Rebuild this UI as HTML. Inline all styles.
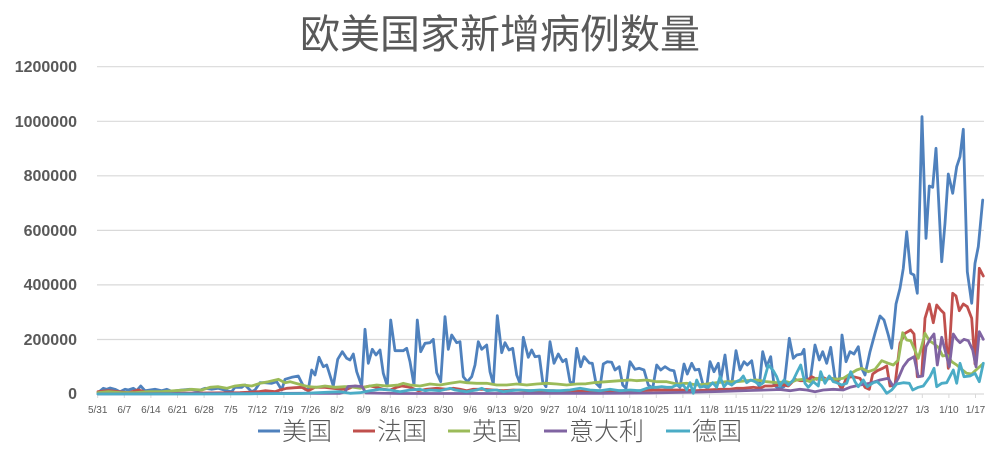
<!DOCTYPE html>
<html><head><meta charset="utf-8"><style>
html,body{margin:0;padding:0;background:#fff;}
svg{display:block;}
</style></head><body>
<svg width="1000" height="457" viewBox="0 0 1000 457" xmlns="http://www.w3.org/2000/svg">
<rect width="1000" height="457" fill="#fff"/>
<text x="500" y="48" text-anchor="middle" font-family="'Liberation Sans','Noto Sans CJK SC',sans-serif" font-size="40" fill="#595959">欧美国家新增病例数量</text>
<g stroke="#d9d9d9" stroke-width="1.2">
<line x1="97" y1="66.7" x2="984" y2="66.7"/>
<line x1="97" y1="121.3" x2="984" y2="121.3"/>
<line x1="97" y1="175.8" x2="984" y2="175.8"/>
<line x1="97" y1="230.4" x2="984" y2="230.4"/>
<line x1="97" y1="284.9" x2="984" y2="284.9"/>
<line x1="97" y1="339.5" x2="984" y2="339.5"/>
<line x1="97" y1="394" x2="984" y2="394"/>
</g>
<g font-family="'Liberation Sans',sans-serif" font-size="16" font-weight="bold" fill="#595959" text-anchor="end">
<text x="77" y="72">1200000</text>
<text x="77" y="127">1000000</text>
<text x="77" y="181">800000</text>
<text x="77" y="236">600000</text>
<text x="77" y="290">400000</text>
<text x="77" y="345">200000</text>
<text x="77" y="399">0</text>
</g>
<g id="ticks" stroke="#d9d9d9" stroke-width="1">
<line x1="97.7" y1="394" x2="97.7" y2="398"/><line x1="124.3" y1="394" x2="124.3" y2="398"/><line x1="150.9" y1="394" x2="150.9" y2="398"/><line x1="177.5" y1="394" x2="177.5" y2="398"/><line x1="204.1" y1="394" x2="204.1" y2="398"/><line x1="230.7" y1="394" x2="230.7" y2="398"/><line x1="257.3" y1="394" x2="257.3" y2="398"/><line x1="283.9" y1="394" x2="283.9" y2="398"/><line x1="310.5" y1="394" x2="310.5" y2="398"/><line x1="337.1" y1="394" x2="337.1" y2="398"/><line x1="363.7" y1="394" x2="363.7" y2="398"/><line x1="390.3" y1="394" x2="390.3" y2="398"/><line x1="416.9" y1="394" x2="416.9" y2="398"/><line x1="443.5" y1="394" x2="443.5" y2="398"/><line x1="470.1" y1="394" x2="470.1" y2="398"/><line x1="496.7" y1="394" x2="496.7" y2="398"/><line x1="523.3" y1="394" x2="523.3" y2="398"/><line x1="549.9" y1="394" x2="549.9" y2="398"/><line x1="576.5" y1="394" x2="576.5" y2="398"/><line x1="603.1" y1="394" x2="603.1" y2="398"/><line x1="629.7" y1="394" x2="629.7" y2="398"/><line x1="656.3" y1="394" x2="656.3" y2="398"/><line x1="682.9" y1="394" x2="682.9" y2="398"/><line x1="709.5" y1="394" x2="709.5" y2="398"/><line x1="736.1" y1="394" x2="736.1" y2="398"/><line x1="762.7" y1="394" x2="762.7" y2="398"/><line x1="789.3" y1="394" x2="789.3" y2="398"/><line x1="815.9" y1="394" x2="815.9" y2="398"/><line x1="842.5" y1="394" x2="842.5" y2="398"/><line x1="869.1" y1="394" x2="869.1" y2="398"/><line x1="895.7" y1="394" x2="895.7" y2="398"/><line x1="922.3" y1="394" x2="922.3" y2="398"/><line x1="948.9" y1="394" x2="948.9" y2="398"/><line x1="975.5" y1="394" x2="975.5" y2="398"/>
</g>
<g font-family="'Liberation Sans',sans-serif" font-size="10" fill="#595959" text-anchor="middle">
<text x="97.7" y="413">5/31</text><text x="124.3" y="413">6/7</text><text x="150.9" y="413">6/14</text><text x="177.5" y="413">6/21</text><text x="204.1" y="413">6/28</text><text x="230.7" y="413">7/5</text><text x="257.3" y="413">7/12</text><text x="283.9" y="413">7/19</text><text x="310.5" y="413">7/26</text><text x="337.1" y="413">8/2</text><text x="363.7" y="413">8/9</text><text x="390.3" y="413">8/16</text><text x="416.9" y="413">8/23</text><text x="443.5" y="413">8/30</text><text x="470.1" y="413">9/6</text><text x="496.7" y="413">9/13</text><text x="523.3" y="413">9/20</text><text x="549.9" y="413">9/27</text><text x="576.5" y="413">10/4</text><text x="603.1" y="413">10/11</text><text x="629.7" y="413">10/18</text><text x="656.3" y="413">10/25</text><text x="682.9" y="413">11/1</text><text x="709.5" y="413">11/8</text><text x="736.1" y="413">11/15</text><text x="762.7" y="413">11/22</text><text x="789.3" y="413">11/29</text><text x="815.9" y="413">12/6</text><text x="842.5" y="413">12/13</text><text x="869.1" y="413">12/20</text><text x="895.7" y="413">12/27</text><text x="922.3" y="413">1/3</text><text x="948.9" y="413">1/10</text><text x="975.5" y="413">1/17</text>
</g>
<g fill="none" stroke-width="2.8" stroke-linejoin="round" stroke-linecap="round">
<polyline stroke="#4F81BD" points="98,392.7 103.3,388.3 106.7,389.3 110,388 115,389.3 120,391.7 125,389.3 128.3,390 133.3,388.3 136.7,390.7 140.7,386 145,390.7 150,390 155,389.3 161.7,390.7 166.7,389.3 171.7,391.3 181.7,390 190,389.3 198.3,390.7 205,388.3 211.7,389.3 218.3,388.3 226.7,390.7 231.7,391.7 235,387.3 241.7,387.3 245,385 251.7,391.7 255,390 260,382.7 265,382.7 271.7,383.3 276.7,381.7 281.7,390 285,379.3 291.7,377.3 298.3,376 305,389.3 308.3,389.3 311.7,370 315,375 319,357.3 323.3,366.7 326.7,365 328.3,370 333.3,386 337.7,359.3 342.3,351.7 346.7,358.3 350,360 353.3,354 356.7,371.7 361.7,386 365,329.3 368.3,363.3 372.3,349.3 376,355 380,350 383.3,373.3 387.3,386 390.7,320 395,350.7 403.3,350.7 406.7,348.3 410,361.7 414,385 417.3,320 420.7,351.7 425,343.3 430,342.7 433.3,339.3 436.7,372.7 440.7,381.7 445,316.7 448.3,349.3 451.7,335 456.7,342.7 460,341.7 463.3,376.7 467.3,381.7 471.7,376.7 475,365 478.3,341.7 481.7,349.3 486.7,345 490,371.7 493.3,384 497.3,315.7 501.7,352.7 505,342.7 509,350 512.7,348.3 516.7,375 520,383.3 523.3,337.3 528.3,357.3 531.7,350 535,356.7 539.3,356 542.7,381.7 546,386.7 550,341.7 554,363.3 558.3,354 562.7,361.7 566,359.3 570,381.7 573.3,384 576.7,348.3 580.7,366.7 584,356.7 589.3,363 592.3,363.3 596,383.3 600,387.3 603.3,364 607.3,361.7 611.7,362.3 615,370 619.3,366.7 622.7,385 626,388.3 630,361.7 635,369.3 639.3,368.3 644,370 648.3,385 652.7,388.3 656.7,365 660.7,370 665,366.7 670,370 674,370.7 677.3,385 680,387.3 684,364 687.3,374 691.7,363.3 695,370 699,369.3 703.3,386 706.7,387.3 710,361.7 714,371.7 718.3,363.3 720.7,380 725,355 728.3,381.7 731.7,385 736,350.7 740,370 744,361.7 747.3,365 751.7,360.7 755,380 759.3,386 762.7,351.7 766.7,366.7 770.7,356.7 774,385 778.3,388.3 784,386.7 789.3,338.3 793.3,358.3 796.7,355 801.7,354 804,349.3 806.7,378.3 810,381.7 815,345 819.3,360 822.7,351.7 826.7,363.3 830.7,347.3 835,378.3 839.3,380 842,335 846,361.7 850,351.7 854,354 858.3,346.7 861.7,368.3 865,375 870,351.7 875,333.3 880,316 884,320 888.3,335 891.7,348.3 896,304 900,288.3 903.3,268.3 906.7,231.7 910.7,273.3 914,275 917.3,293.3 922,116.7 926,238.3 929.3,186 932.7,187.3 936,148.3 941.7,261.7 945,223.3 948.3,174 952.7,193.3 956.7,166.7 960,156.7 963.3,129.3 967.3,271.7 971.7,303.3 975,263.3 978.3,246.7 982.7,200"/>
<polyline stroke="#C0504D" points="98,391.7 108.3,390.7 118.3,391.7 128.3,392.7 138.3,390 148.3,392.7 161.7,393.3 200,393 240,392.7 258.3,391.7 265,390.7 275,391.7 280,390 286.7,388.3 295,387.7 301.7,387.3 308.3,390.7 315,387.3 325,387.3 333.3,388.3 340,389 346.7,389.3 355,386 363.3,387.3 370,386 376.7,387.3 383.3,389.3 390,390 396.7,387.3 401.7,386 410,387.3 418.3,390.7 426.7,389.3 436.7,388.3 446.7,389.3 453.3,388.3 460,389.3 466.7,390.7 473.3,389.3 483.3,389.3 493.3,390 503.3,390.7 513.3,390 526.7,390.7 540,390.7 553.3,390.7 566.7,391.7 580,391.2 590,391.7 600,390.7 610,391.7 620,390.7 630,391.7 640,390.7 653.3,390 666.7,390 680,390 696.7,390.7 706.7,390 720,389.3 730,389.3 736.7,388.3 743.3,388.3 753.3,387.3 760,388.3 765,386 771.7,386 778.3,385 783.3,385 788.3,386 795,379.3 800,380.7 806.7,380.7 811.7,376.7 816.7,379.3 821.7,376.7 826.7,379.3 831.7,378.3 836.7,380 841.7,389.3 846.7,377.3 853.3,376.7 860,378.3 865,387.3 869.3,389.3 872.7,374 877.3,370.7 882.7,368.3 886.7,366 890,386 895,385 900,343.3 905,333.3 910.7,330 914,334 917.3,376.7 921.7,376 925,318.3 929.3,304 933.3,322.7 936.7,305 940.7,310 944,313.3 948.3,368.3 952.7,293.3 956,296 959.3,310.7 963.3,304 967.3,306.7 971.7,318.3 975,364 979.3,268.3 983.3,276"/>
<polyline stroke="#9BBB59" points="98,392.7 108.3,391.7 121.7,392.7 135,392.7 148.3,391.7 161.7,391.7 175,390.7 185,390 191.7,389.3 201.7,390 210,387.3 218.3,386.7 226.7,388.3 235,386 243.3,385 251.7,386 260,383.3 268.3,381.7 278.3,379.3 285,382.7 290,381.7 298.3,384 308.3,386.7 316.7,387.3 325,386 335,387.3 344.3,386.7 350,386.7 360,388.3 370,386 376.7,385 386.7,386 398.3,385 403.3,383.3 410,385 420,386 430,384 440,385 450,383.3 460,381.7 466.7,382.7 476.7,383.3 486.7,383.3 496.7,385 506.7,385 516.7,384 526.7,385 536.7,384 546.7,383.3 556.7,384 566.7,385 576.7,384 586,383.8 593.3,382.7 606.7,381.7 620,380.7 630,380 636.7,380.7 646.7,380 656.7,381.7 666.7,381.7 676.7,384 686.7,383.3 696.7,385 706.7,384 716.7,382.7 726.7,381.7 736.7,381.7 746.7,380.7 756.7,380 766.7,381.7 776.7,382.7 786.7,381.7 790,382.7 796.7,380 803.3,379.3 810,381.7 816.7,378.3 823.3,380 830,378.3 836.7,379.3 843.3,378.3 850,374 856.7,370 861.7,368.3 868.3,371.7 875,369.3 881.7,360.7 888.3,363.3 893.3,365 898.3,360 902.7,332.7 906.7,340 910.7,340.7 914,348.3 918.3,358.3 921.7,346 925,333.3 929.3,340.7 933.3,343.3 938.3,347.3 942.7,356 947.3,355 951.7,361.7 956.7,365 961.7,369.3 966.7,373.3 971.7,374 976.7,369.3 982.7,364"/>
<polyline stroke="#8064A2" points="98,394 150,393.8 200,393.5 250,393.5 300,393.3 340,393.3 345,392 348,386.5 355,386 362,386.5 366,393 400,393.5 450,393.5 500,393.5 560,393.3 600,393.3 650,393 700,392 720,391.5 750,390.5 780,389.5 790,390.7 800,389.3 806.7,390 815,391.7 823.3,390 833.3,389.3 843.3,390 850,387.3 860,385 870,383.3 880,380 888.3,378.3 893.3,386.7 898.3,378.3 903.3,366.7 908.3,360 914,356.7 918.3,376.7 922.7,376 926,346.7 930,339.3 934,334 937.3,365 941.7,337.3 945,350 949.3,366.7 953.3,334 956.7,339.3 960,342.7 964,339.3 968.3,340.7 972.7,350 976,366.7 979.3,331.7 983.3,339.3"/>
<polyline stroke="#4BACC6" points="98,394 150,394 200,394 250,393.8 300,393.5 340,391.7 350,393.3 360,392.7 370,390.7 380,389.3 390,390 400,391.7 410,390 420,389.3 425,390.7 430,390 440,390.7 450,388.3 455,390 460,390.7 466.7,391.7 471.7,390.7 476.7,390 481.7,388.3 486.7,390.7 496.7,390 503.3,391.7 510,390.7 520,390 530,390.7 540,390 550,390.7 560,390.7 570,390 580,388.3 590,390 600,390.7 610,389.3 620,390.7 630,390 640,390.7 646.7,388.3 651.7,387.3 656.7,387.3 661.7,386.7 666.7,387.3 671.7,387.3 676.7,385 680,386 683.3,385 686.7,390 690,382.7 693.3,393.3 696.7,380 700,387.3 705,386 708.3,387.3 712.7,382.7 716.7,387.3 720,376.7 724,386.7 727.3,382.7 731.7,385 736,381.7 740,380 743.3,376 746.7,382.7 750.7,380 755,381.7 760,385 763.3,382.7 768.3,365 773.3,370.7 776.7,376.7 780,386 784,380 788.3,385 793.3,380 797.3,371.7 800.7,365 805,383.3 808.3,387.3 813.3,381.7 818.3,386 820.7,371.7 825,383.3 829.3,376 833.3,381.7 836.7,382.7 841.7,385 846.7,383.3 850.7,371.7 855,381.7 858.3,386.7 863.3,380 867.3,386.7 873.3,382.7 877.3,381.7 881.7,386 886.7,393.3 891.7,390 896.7,384 903.3,382.7 909.3,383.3 912.7,390 918.3,387.3 923.3,386 930,376.7 934,368.3 936.7,386.7 941.7,383.3 946.7,382.7 953.3,370 956.7,383.3 960,363.3 964,376.7 970,376 975,373.3 979.3,381.7 983.3,363.3"/>
</g>
<g stroke-width="3">
<line x1="258" y1="431" x2="280" y2="431" stroke="#4F81BD"/>
<line x1="353" y1="431" x2="375" y2="431" stroke="#C0504D"/>
<line x1="448" y1="431" x2="470" y2="431" stroke="#9BBB59"/>
<line x1="544" y1="431" x2="567" y2="431" stroke="#8064A2"/>
<line x1="666" y1="431" x2="690" y2="431" stroke="#4BACC6"/>
</g>
<g font-family="'Liberation Sans','Noto Sans CJK SC',sans-serif" font-size="25" fill="#595959" font-weight="300">
<text x="282" y="440">美国</text>
<text x="377" y="440">法国</text>
<text x="472" y="440">英国</text>
<text x="569" y="440">意大利</text>
<text x="692" y="440">德国</text>
</g>
</svg>
</body></html>
